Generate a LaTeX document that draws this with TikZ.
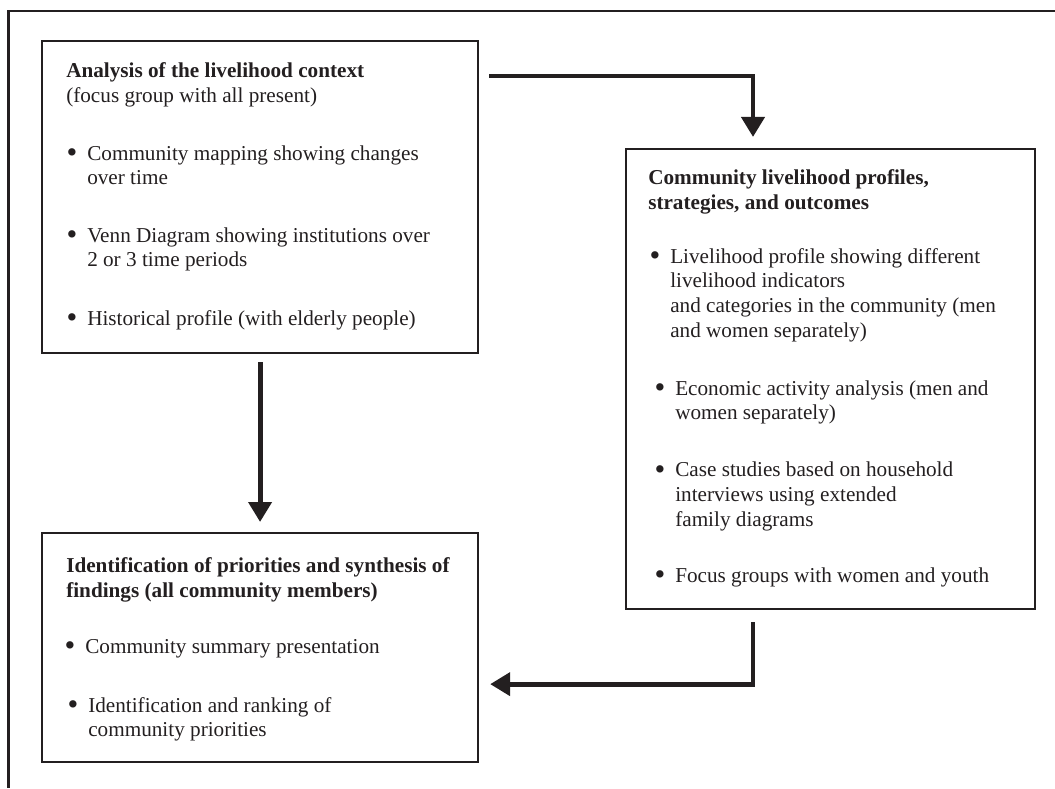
\documentclass[tikz,border=0pt]{standalone}
\usepackage{fontspec}
\setmainfont{Liberation Serif}
\usetikzlibrary{arrows.meta, positioning}
\definecolor{ink}{RGB}{35,31,32}
\newcommand\bul{\llap{\raisebox{-2.2pt}{\fontsize{23}{23}\selectfont\textbullet}\hspace{7.5pt}}}

\begin{document}
\begin{tikzpicture}[x=0.75pt, y=-0.75pt, >={Triangle[width=17pt, length=15pt]},
  box/.style={draw=ink, line width=1.6pt, anchor=north west, inner sep=0pt},
  txt/.style={anchor=base west, inner sep=0pt, align=left, text=ink, font=\fontsize{15.9}{18.5}\selectfont},
  flow/.style={->, draw=ink, line width=3.7pt, line join=miter}]
\useasboundingbox (0,0) rectangle (1055,788);
\draw[ink, line width=1.9pt] (1055,11) -- (8.5,11) -- (8.5,788);
%
\node[box, minimum width=327pt, minimum height=234pt] (ctx) at (41,40) {};
\node[box, minimum width=306.75pt, minimum height=345pt] (prof) at (625,148) {};
\node[box, minimum width=327pt, minimum height=171.75pt] (iden) at (41,532) {};
%
% text nodes sit on the baseline of their last line
\node[txt] (ctx title) at (66,102.5) {\textbf{Analysis of the livelihood context}\\(focus group with all present)};
\node[txt] (ctx a) at (87,184.7) {\bul Community mapping showing changes\\over time};
\node[txt] (ctx b) at (87,266.7) {\bul Venn Diagram showing institutions over\\2 or 3 time periods};
\node[txt] (ctx c) at (87,325) {\bul Historical profile (with elderly people)};
%
\node[txt, font=\fontsize{15.9}{18.5}\selectfont\bfseries] (prof title) at (648,209) {Community livelihood profiles,\\strategies, and outcomes};
\node[txt] (prof a) at (670,337) {\bul Livelihood profile showing different\\livelihood indicators\\and categories in the community (men\\and women separately)};
\node[txt] (prof b) at (675,419.7) {\bul Economic activity analysis (men and\\women separately)};
\node[txt] (prof c) at (675,526) {\bul Case studies based on household\\interviews using extended\\family diagrams};
\node[txt] (prof d) at (675,582) {\bul Focus groups with women and youth};
%
\node[txt, font=\fontsize{15.9}{18.5}\selectfont\bfseries] (iden title) at (66,597.5) {Identification of priorities and synthesis of\\findings (all community members)};
\node[txt] (iden a) at (85,653) {\bul Community summary presentation};
\node[txt] (iden b) at (88,736.7) {\bul Identification and ranking of\\community priorities};
%
\draw[flow] ([xshift=7.5pt, yshift=-27pt]ctx.north east) -| ([xshift=96pt, yshift=8.25pt]prof.north west);
\draw[flow] ([yshift=-6pt]ctx.south) -- ([yshift=7.5pt]iden.north);
\draw[flow] ([xshift=96pt, yshift=-9pt]prof.south west) |- ([xshift=8.25pt, yshift=59.25pt]iden.south east);
\end{tikzpicture}
\end{document}
